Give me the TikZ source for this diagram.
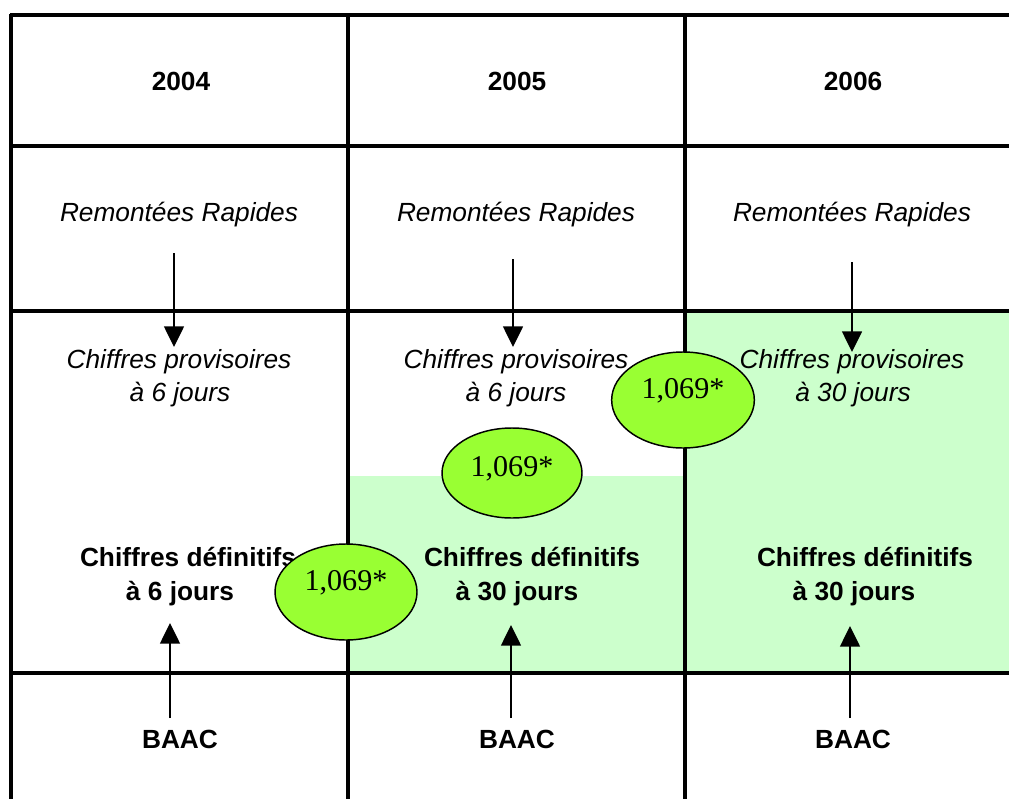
\documentclass[tikz,border=0pt]{standalone}
\usepackage{fontspec}
\setmainfont{Liberation Sans}
\newfontfamily\numfont{Liberation Serif}
\usetikzlibrary{shapes.geometric,arrows.meta}
\definecolor{palegreen}{HTML}{CCFFCC}
\definecolor{limefill}{HTML}{99FF33}
\begin{document}
\begin{tikzpicture}[x=0.75pt,y=-0.75pt,
  gridline/.style={line width=2.3pt},
  arr/.style={line width=1.1pt,-{Triangle[width=15pt,length=15.5pt]}},
  txt/.style={anchor=base,inner sep=0pt,font=\fontsize{19.7}{23}\selectfont},
  itxt/.style={txt,font=\fontsize{19.7}{23}\selectfont\itshape},
  btxt/.style={txt,font=\fontsize{19.7}{23}\selectfont\bfseries},
  bubble/.style={ellipse,draw=black,line width=1.1pt,fill=limefill,inner sep=0pt},
  bubbletxt/.style={anchor=base,inner sep=0pt,font=\numfont\fontsize{22.6}{26}\selectfont}]
\useasboundingbox (0,0) rectangle (1009,799);
\fill[white] (0,0) rectangle (1009,799);
% green areas
\fill[palegreen] (348,476) rectangle (685,673);
\fill[palegreen] (685,311) rectangle (1009,673);
% grid
\draw[gridline] (10,15) -- (1009,15);
\draw[gridline] (10,146) -- (1009,146);
\draw[gridline] (10,311) -- (1009,311);
\draw[gridline] (10,673) -- (1009,673);
\draw[gridline] (11,14) -- (11,799);
\draw[gridline] (348,14) -- (348,799);
\draw[gridline] (685,14) -- (685,799);
% years
\node[btxt] (y1) at (181,90) {2004};
\node[btxt] (y2) at (517,90) {2005};
\node[btxt] (y3) at (853,90) {2006};
% remontees
\node[itxt] (r1) at (179,221) {Remontées Rapides};
\node[itxt] (r2) at (516,221) {Remontées Rapides};
\node[itxt] (r3) at (852,221) {Remontées Rapides};
% provisoires
\node[itxt] (p1a) at (179,368) {Chiffres provisoires};
\node[itxt] (p1b) at (180,401) {à 6 jours};
\node[itxt] (p2a) at (516,368) {Chiffres provisoires};
\node[itxt] (p2b) at (516,401) {à 6 jours};
\node[itxt] (p3a) at (852,368) {Chiffres provisoires};
\node[itxt] (p3b) at (853,401) {à 30 jours};
% definitifs
\node[btxt] (d1a) at (188,566) {Chiffres définitifs};
\node[btxt] (d1b) at (180,600) {à 6 jours};
\node[btxt] (d2a) at (532,566) {Chiffres définitifs};
\node[btxt] (d2b) at (517,600) {à 30 jours};
\node[btxt] (d3a) at (865,566) {Chiffres définitifs};
\node[btxt] (d3b) at (854,600) {à 30 jours};
% BAAC
\node[btxt] (b1) at (180,748) {BAAC};
\node[btxt] (b2) at (517,748) {BAAC};
\node[btxt] (b3) at (853,748) {BAAC};
% arrow coordinates
\coordinate (s1) at (174,253); \coordinate (t1) at (174,347);
\coordinate (s2) at (513,259); \coordinate (t2) at (513,347);
\coordinate (s3) at (852,262); \coordinate (t3) at (852,352);
\coordinate (u1) at (170,718); \coordinate (v1) at (170,623);
\coordinate (u2) at (511,718); \coordinate (v2) at (511,625);
\coordinate (u3) at (850,718); \coordinate (v3) at (850,626);
\draw[arr] (s1) -- (t1);
\draw[arr] (s2) -- (t2);
\draw[arr] (s3) -- (t3);
\draw[arr] (u1) -- (v1);
\draw[arr] (u2) -- (v2);
\draw[arr] (u3) -- (v3);
% bubbles
\node[bubble,minimum width=106.5pt,minimum height=72pt] (e1) at (346,592) {};
\node[bubbletxt] (n1) at (346,590) {1,069*};
\node[bubble,minimum width=105pt,minimum height=67.5pt] (e2) at (512,473) {};
\node[bubbletxt] (n2) at (512,476) {1,069*};
\node[bubble,minimum width=107pt,minimum height=72pt] (e3) at (683,400) {};
\node[bubbletxt] (n3) at (683,398) {1,069*};
\end{tikzpicture}
\end{document}
